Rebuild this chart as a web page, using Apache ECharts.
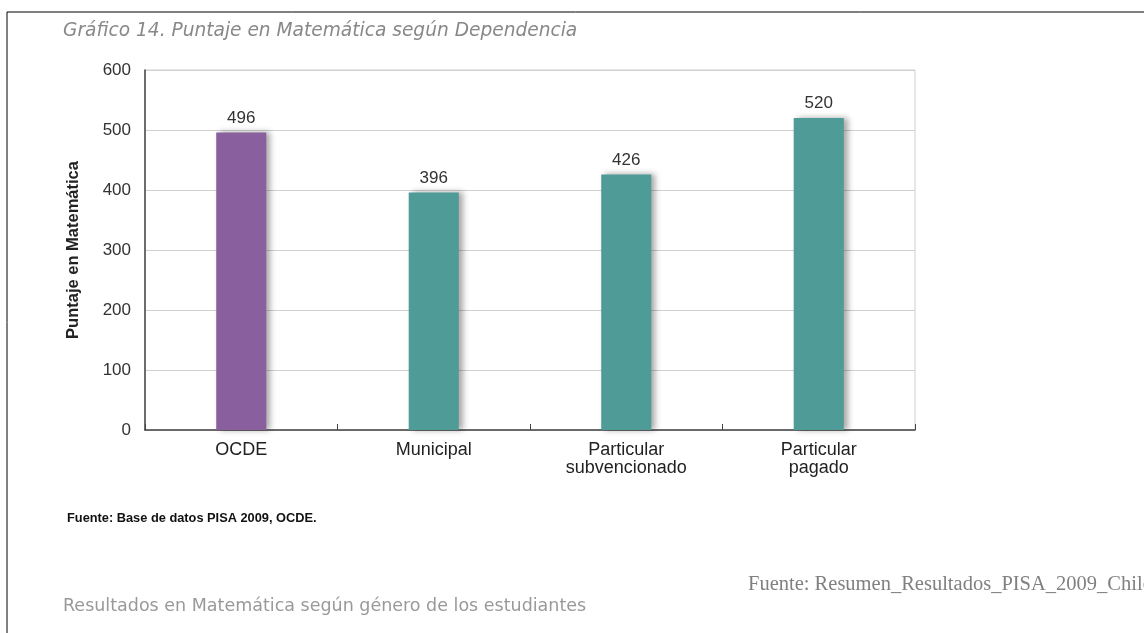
<!DOCTYPE html>
<html><head><meta charset="utf-8">
<script src="https://cdn.jsdelivr.net/npm/echarts@6/dist/echarts.min.js"></script>
<style>html,body{margin:0;padding:0;background:#fff}#c{width:1144px;height:633px}</style>
</head><body><div id="c"></div>
<script>
const categories = ['OCDE', 'Municipal', 'Particular\nsubvencionado', 'Particular\npagado'];
const scores = [496, 396, 426, 520];
const barColors = ['#8a5f9d', '#4f9b97', '#4f9b97', '#4f9b97'];
const yTicks = [0, 100, 200, 300, 400, 500, 600];

const chart = echarts.init(document.getElementById('c'));
chart.setOption({
  animation: false,
  backgroundColor: '#fff',
  grid: { left: 145, right: 229, top: 70, bottom: 203, show: true, borderColor: '#d0d0d0', borderWidth: 1, backgroundColor: 'transparent' },
  xAxis: {
    type: 'category', data: categories,
    axisLine: { lineStyle: { color: '#444', width: 1.5 } },
    axisTick: { show: true, inside: true, length: 6, lineStyle: { color: '#444' } },
    axisLabel: { color: '#222', fontSize: 18, fontFamily: 'Liberation Sans', margin: 11, lineHeight: 18 }
  },
  yAxis: {
    type: 'value', min: 0, max: 600, interval: 100,
    name: 'Puntaje en Matemática', nameLocation: 'middle', nameGap: 63, nameRotate: 90,
    nameTextStyle: { fontWeight: 'bold', fontSize: 16.5, color: '#222', fontFamily: 'Liberation Sans' },
    axisLine: { show: true, lineStyle: { color: '#444', width: 1.5 } },
    axisTick: { show: false },
    axisLabel: { color: '#333', fontSize: 17, fontFamily: 'Liberation Sans', margin: 14,
      formatter: v => yTicks.includes(v) ? String(v) : '' },
    splitLine: { lineStyle: { color: '#d0d0d0' } }
  },
  series: [{
    type: 'bar', data: scores.map((v, i) => ({ value: v, itemStyle: { color: barColors[i] } })),
    barWidth: '26%',
    itemStyle: { shadowColor: 'rgba(0,0,0,0.35)', shadowBlur: 6, shadowOffsetX: 4, shadowOffsetY: 0 },
    label: { show: true, position: 'top', distance: 6, color: '#333', fontSize: 17, fontFamily: 'Liberation Sans' }
  }],
  graphic: [
    { type: 'line', shape: { x1: 7, y1: 12, x2: 1144, y2: 12 }, style: { stroke: '#000', lineWidth: 1 } },
    { type: 'line', shape: { x1: 7, y1: 12, x2: 7, y2: 633 }, style: { stroke: '#000', lineWidth: 1 } },
    { type: 'text', left: 63, top: 22, style: { text: 'Gráfico 14. Puntaje en Matemática según Dependencia', fill: '#888', font: 'oblique 18.6px "DejaVu Sans"' } },
    { type: 'text', left: 67, top: 512, style: { text: 'Fuente: Base de datos PISA 2009, OCDE.', fill: '#111', font: 'bold 12.8px "Liberation Sans"' } },
    { type: 'text', left: 63, top: 597, style: { text: 'Resultados en Matemática según género de los estudiantes', fill: '#999', font: '17.5px "DejaVu Sans"' } },
    { type: 'text', left: 748, top: 574, style: { text: 'Fuente: Resumen_Resultados_PISA_2009_Chile', fill: '#808080', font: '20.5px "Liberation Serif"' } }
  ]
});
</script></body></html>
